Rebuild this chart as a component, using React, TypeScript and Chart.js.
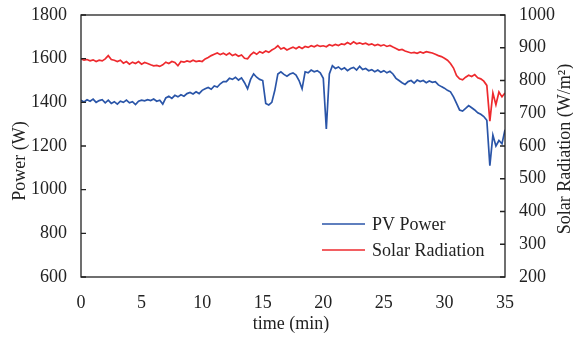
import React, { useEffect, useRef } from "react";
import { Chart, registerables } from "chart.js";

Chart.register(...registerables);

// time grid (minutes), one sample every 0.25 min from 0 to 35
const timeMin: number[] = Array.from({ length: 141 }, (_, i) => i * 0.25);

// PV power (W), left axis
const pvPower: number[] = [
  1410, 1402, 1412, 1405, 1415, 1400, 1408, 1412, 1398, 1410,
  1395, 1403, 1392, 1405, 1400, 1410, 1398, 1403, 1390, 1405,
  1410, 1407, 1412, 1408, 1415, 1405, 1410, 1392, 1420, 1428,
  1418, 1432, 1425, 1435, 1428, 1440, 1445, 1438, 1448, 1440,
  1455, 1462, 1468, 1460, 1475, 1470, 1485, 1495, 1495, 1510,
  1505, 1515, 1502, 1512, 1490, 1462, 1505, 1530, 1515, 1505,
  1500, 1395, 1388, 1400, 1455, 1530, 1540, 1528, 1520, 1530,
  1535, 1525, 1500, 1462, 1540, 1535, 1548, 1540, 1545, 1535,
  1510, 1278, 1530, 1568, 1555, 1562, 1550, 1558, 1545, 1555,
  1560, 1548, 1565, 1550, 1555, 1545, 1550, 1540, 1548, 1538,
  1545, 1535, 1542, 1530, 1510, 1500, 1490, 1482, 1495, 1500,
  1488, 1502, 1495, 1500, 1490, 1498, 1492, 1495, 1480, 1472,
  1465, 1455, 1448, 1425, 1395, 1365, 1360, 1372, 1385, 1375,
  1365, 1352, 1345, 1335, 1318, 1110, 1250, 1200, 1225, 1210,
  1275,
];

// Solar radiation (W/m2), right axis
const solarRadiation: number[] = [
  866, 862, 864, 860, 863, 858, 862, 860, 866, 876,
  864, 862, 858, 862, 853, 858, 850, 856, 852, 858,
  850, 855, 852, 848, 845, 846, 843, 848, 856, 852,
  858, 855, 845, 858, 856, 860, 857, 862, 858, 860,
  858, 866, 870, 876, 880, 884, 879, 883, 878, 884,
  876, 880, 874, 878, 868, 866, 878, 886, 880, 888,
  884, 890, 886, 893, 898, 906, 896, 900, 893, 898,
  902, 897, 903, 898, 904, 901, 906, 903, 908, 904,
  906, 903, 909, 906, 910, 907, 912, 910, 916, 911,
  918, 912, 915, 911, 914, 909, 912, 907, 910, 906,
  909, 904, 907, 902, 898, 893, 895, 890, 887, 884,
  886, 883, 887, 884, 888, 886, 884, 880, 876, 873,
  868, 862, 852, 838, 815, 805, 802, 810, 816, 812,
  818, 808, 805, 798, 785, 676, 762, 726, 765, 750,
  762,
];

const powerTicks: number[] = [600, 800, 1000, 1200, 1400, 1600, 1800];
const radiationTicks: number[] = [200, 300, 400, 500, 600, 700, 800, 900, 1000];
const timeTicks: number[] = [0, 5, 10, 15, 20, 25, 30, 35];

const seriesNames: string[] = ["PV Power", "Solar Radiation"];
const seriesColors: string[] = ["#2a55a8", "#ee2a2e"];

const FONT = "Liberation Serif";
const TEXT = "#222";

const decor = {
  id: "decor",
  afterDraw(chart: any) {
    const { ctx, chartArea: a, scales } = chart;
    ctx.save();
    ctx.strokeStyle = "#222";
    ctx.lineWidth = 1.3;
    ctx.strokeRect(a.left, a.top, a.right - a.left, a.bottom - a.top);
    ctx.beginPath();
    for (const v of powerTicks) {
      const y = scales.y.getPixelForValue(v);
      ctx.moveTo(a.left, y);
      ctx.lineTo(a.left + 5, y);
    }
    for (const v of radiationTicks) {
      const y = scales.y1.getPixelForValue(v);
      ctx.moveTo(a.right - 5, y);
      ctx.lineTo(a.right, y);
    }
    ctx.stroke();

    // legend
    ctx.font = `18px "${FONT}"`;
    ctx.fillStyle = TEXT;
    ctx.textAlign = "left";
    ctx.textBaseline = "middle";
    seriesNames.forEach((name, i) => {
      const y = 224 + i * 26;
      ctx.strokeStyle = seriesColors[i];
      ctx.lineWidth = 1.6;
      ctx.beginPath();
      ctx.moveTo(322, y);
      ctx.lineTo(365, y);
      ctx.stroke();
      ctx.fillText(name, 372, y + 1);
    });

    // axis titles
    ctx.textAlign = "center";
    ctx.textBaseline = "middle";
    ctx.fillText("time (min)", (a.left + a.right) / 2 - 2, 324);

    ctx.save();
    ctx.translate(20, 161);
    ctx.rotate(-Math.PI / 2);
    ctx.fillText("Power (W)", 0, 0);
    ctx.restore();

    ctx.save();
    ctx.translate(565, 149);
    ctx.rotate(-Math.PI / 2);
    ctx.fillText("Solar Radiation (W/m\u00B2)", 0, 0);
    ctx.restore();

    ctx.restore();
  },
};

export default function App() {
  const ref = useRef<HTMLCanvasElement>(null);

  useEffect(() => {
    if (!ref.current) return;
    const tickFont = { family: FONT, size: 18 };
    const plain = (v: any) => String(v);
    const noPad = (s: any) => {
      s.paddingTop = 0;
      s.paddingBottom = 0;
      s.paddingLeft = 0;
      s.paddingRight = 0;
    };
    const chart = new Chart(ref.current, {
      type: "line",
      data: {
        datasets: [
          {
            label: seriesNames[0],
            data: timeMin.map((t, i) => ({ x: t, y: pvPower[i] })),
            borderColor: seriesColors[0],
            borderWidth: 1.7,
            pointRadius: 0,
            tension: 0,
            yAxisID: "y",
          },
          {
            label: seriesNames[1],
            data: timeMin.map((t, i) => ({ x: t, y: solarRadiation[i] })),
            borderColor: seriesColors[1],
            borderWidth: 1.7,
            pointRadius: 0,
            tension: 0,
            yAxisID: "y1",
          },
        ],
      },
      options: {
        responsive: false,
        animation: false,
        layout: { padding: { top: 15, left: 0, right: 0, bottom: 0 } },
        plugins: { legend: { display: false }, tooltip: { enabled: false } },
        scales: {
          x: {
            type: "linear",
            min: 0,
            max: 35,
            afterBuildTicks: (s: any) => {
              s.ticks = timeTicks.map((v) => ({ value: v }));
            },
            afterFit: (s: any) => {
              s.height = 61;
              noPad(s);
            },
            grid: { display: false, drawTicks: false },
            border: { display: false },
            ticks: { font: tickFont, color: TEXT, padding: 15, maxRotation: 0, callback: plain },
          },
          y: {
            type: "linear",
            position: "left",
            min: 600,
            max: 1800,
            afterBuildTicks: (s: any) => {
              s.ticks = powerTicks.map((v) => ({ value: v }));
            },
            afterFit: (s: any) => {
              s.width = 81;
              noPad(s);
            },
            grid: { display: false, drawTicks: false },
            border: { display: false },
            ticks: { font: tickFont, color: TEXT, padding: 14, callback: plain },
          },
          y1: {
            type: "linear",
            position: "right",
            min: 200,
            max: 1000,
            afterBuildTicks: (s: any) => {
              s.ticks = radiationTicks.map((v) => ({ value: v }));
            },
            afterFit: (s: any) => {
              s.width = 68;
              noPad(s);
            },
            grid: { display: false, drawTicks: false },
            border: { display: false },
            ticks: { font: tickFont, color: TEXT, padding: 14, callback: plain },
          },
        },
      },
      plugins: [decor],
    });
    return () => chart.destroy();
  }, []);

  return (
    <canvas
      ref={ref}
      width={573}
      height={338}
      style={{ position: "absolute", left: 0, top: 0, background: "#fff" }}
    />
  );
}
